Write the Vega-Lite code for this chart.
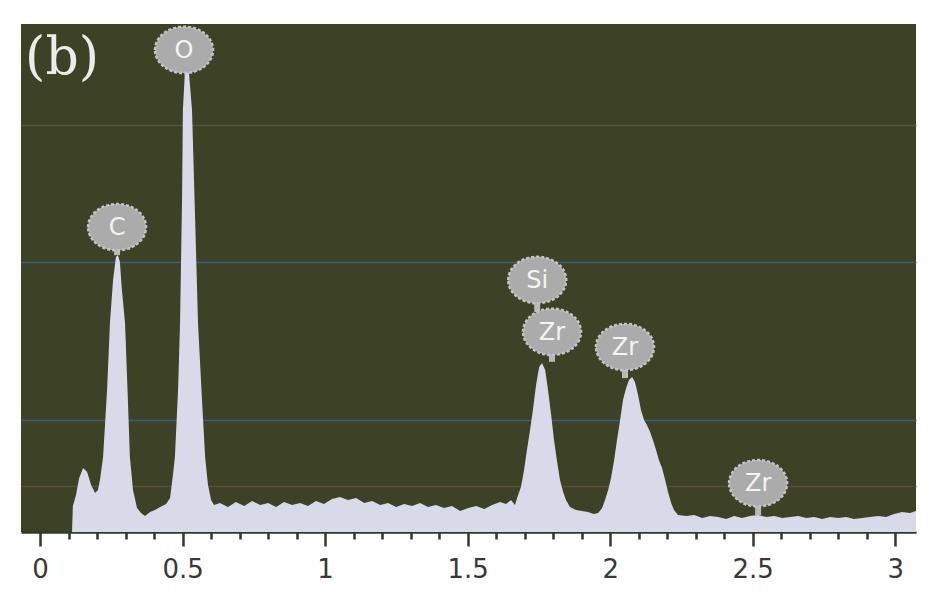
{
  "$schema": "https://vega.github.io/schema/vega-lite/v6.json",
  "autosize": {"type": "none"},
  "padding": {"left": 21, "top": 24, "right": 13, "bottom": 75},
  "width": 895,
  "height": 508,
  "background": "#ffffff",
  "config": {
    "view": {"fill": "#3d4227", "stroke": null}
  },
  "datasets": {
    "spec": [
      {"e": 0.112, "c": 0},
      {"e": 0.115, "c": 5.12},
      {"e": 0.126, "c": 7.28},
      {"e": 0.137, "c": 10.63},
      {"e": 0.151, "c": 12.6},
      {"e": 0.165, "c": 11.81},
      {"e": 0.179, "c": 9.25},
      {"e": 0.193, "c": 7.68},
      {"e": 0.203, "c": 8.27},
      {"e": 0.21, "c": 10.24},
      {"e": 0.221, "c": 14.76},
      {"e": 0.235, "c": 27.95},
      {"e": 0.245, "c": 41.14},
      {"e": 0.256, "c": 49.61},
      {"e": 0.266, "c": 54.13},
      {"e": 0.273, "c": 54.53},
      {"e": 0.28, "c": 53.15},
      {"e": 0.287, "c": 47.64},
      {"e": 0.298, "c": 41.14},
      {"e": 0.308, "c": 25.98},
      {"e": 0.315, "c": 14.76},
      {"e": 0.326, "c": 8.27},
      {"e": 0.34, "c": 4.72},
      {"e": 0.354, "c": 3.74},
      {"e": 0.368, "c": 3.15},
      {"e": 0.386, "c": 3.94},
      {"e": 0.403, "c": 4.33},
      {"e": 0.421, "c": 4.92},
      {"e": 0.442, "c": 5.51},
      {"e": 0.456, "c": 6.69},
      {"e": 0.466, "c": 11.22},
      {"e": 0.473, "c": 14.76},
      {"e": 0.484, "c": 27.95},
      {"e": 0.491, "c": 41.14},
      {"e": 0.498, "c": 65.35},
      {"e": 0.501, "c": 83.07},
      {"e": 0.508, "c": 90.55},
      {"e": 0.515, "c": 91.73},
      {"e": 0.522, "c": 90.55},
      {"e": 0.533, "c": 83.07},
      {"e": 0.544, "c": 61.42},
      {"e": 0.554, "c": 41.14},
      {"e": 0.568, "c": 25.98},
      {"e": 0.579, "c": 14.76},
      {"e": 0.589, "c": 9.25},
      {"e": 0.6, "c": 6.3},
      {"e": 0.61, "c": 5.31},
      {"e": 0.631, "c": 5.71},
      {"e": 0.659, "c": 4.92},
      {"e": 0.687, "c": 5.91},
      {"e": 0.716, "c": 5.12},
      {"e": 0.744, "c": 6.1},
      {"e": 0.772, "c": 5.31},
      {"e": 0.8, "c": 5.71},
      {"e": 0.828, "c": 4.92},
      {"e": 0.856, "c": 5.91},
      {"e": 0.884, "c": 5.31},
      {"e": 0.912, "c": 5.71},
      {"e": 0.94, "c": 5.12},
      {"e": 0.968, "c": 6.1},
      {"e": 0.996, "c": 5.51},
      {"e": 1.024, "c": 6.5},
      {"e": 1.052, "c": 6.89},
      {"e": 1.08, "c": 6.3},
      {"e": 1.109, "c": 6.69},
      {"e": 1.137, "c": 5.71},
      {"e": 1.165, "c": 6.1},
      {"e": 1.193, "c": 5.31},
      {"e": 1.221, "c": 5.71},
      {"e": 1.249, "c": 4.92},
      {"e": 1.277, "c": 5.51},
      {"e": 1.305, "c": 5.12},
      {"e": 1.333, "c": 5.71},
      {"e": 1.361, "c": 4.92},
      {"e": 1.389, "c": 5.31},
      {"e": 1.417, "c": 4.72},
      {"e": 1.445, "c": 5.12},
      {"e": 1.474, "c": 4.13},
      {"e": 1.502, "c": 4.72},
      {"e": 1.53, "c": 5.12},
      {"e": 1.558, "c": 4.53},
      {"e": 1.586, "c": 5.31},
      {"e": 1.614, "c": 5.91},
      {"e": 1.635, "c": 5.51},
      {"e": 1.652, "c": 6.3},
      {"e": 1.666, "c": 5.31},
      {"e": 1.677, "c": 7.28},
      {"e": 1.687, "c": 8.86},
      {"e": 1.698, "c": 12.2},
      {"e": 1.708, "c": 16.14},
      {"e": 1.719, "c": 20.08},
      {"e": 1.729, "c": 24.02},
      {"e": 1.74, "c": 28.94},
      {"e": 1.751, "c": 32.48},
      {"e": 1.761, "c": 33.27},
      {"e": 1.772, "c": 31.89},
      {"e": 1.782, "c": 27.95},
      {"e": 1.793, "c": 23.03},
      {"e": 1.803, "c": 18.11},
      {"e": 1.814, "c": 13.78},
      {"e": 1.824, "c": 10.24},
      {"e": 1.835, "c": 7.87},
      {"e": 1.845, "c": 6.3},
      {"e": 1.859, "c": 4.92},
      {"e": 1.88, "c": 4.33},
      {"e": 1.901, "c": 4.13},
      {"e": 1.922, "c": 3.94},
      {"e": 1.943, "c": 3.54},
      {"e": 1.958, "c": 3.74},
      {"e": 1.972, "c": 4.72},
      {"e": 1.982, "c": 6.3},
      {"e": 1.993, "c": 8.27},
      {"e": 2.003, "c": 10.63},
      {"e": 2.014, "c": 14.17},
      {"e": 2.024, "c": 18.11},
      {"e": 2.035, "c": 22.05},
      {"e": 2.045, "c": 25.98},
      {"e": 2.056, "c": 28.35},
      {"e": 2.066, "c": 29.92},
      {"e": 2.077, "c": 30.51},
      {"e": 2.087, "c": 29.53},
      {"e": 2.098, "c": 26.97},
      {"e": 2.108, "c": 24.02},
      {"e": 2.119, "c": 22.05},
      {"e": 2.129, "c": 21.06},
      {"e": 2.14, "c": 19.69},
      {"e": 2.15, "c": 18.11},
      {"e": 2.161, "c": 16.14},
      {"e": 2.171, "c": 14.17},
      {"e": 2.182, "c": 12.6},
      {"e": 2.193, "c": 10.24},
      {"e": 2.203, "c": 7.87},
      {"e": 2.214, "c": 5.71},
      {"e": 2.224, "c": 4.33},
      {"e": 2.238, "c": 3.35},
      {"e": 2.267, "c": 3.15},
      {"e": 2.295, "c": 3.35},
      {"e": 2.323, "c": 2.76},
      {"e": 2.351, "c": 3.15},
      {"e": 2.379, "c": 2.95},
      {"e": 2.407, "c": 2.56},
      {"e": 2.435, "c": 3.15},
      {"e": 2.463, "c": 2.76},
      {"e": 2.491, "c": 3.15},
      {"e": 2.519, "c": 3.35},
      {"e": 2.548, "c": 2.95},
      {"e": 2.576, "c": 3.15},
      {"e": 2.604, "c": 2.76},
      {"e": 2.632, "c": 2.95},
      {"e": 2.66, "c": 3.15},
      {"e": 2.688, "c": 2.76},
      {"e": 2.716, "c": 2.95},
      {"e": 2.744, "c": 2.56},
      {"e": 2.772, "c": 2.95},
      {"e": 2.8, "c": 2.76},
      {"e": 2.828, "c": 2.95},
      {"e": 2.856, "c": 2.56},
      {"e": 2.884, "c": 2.76},
      {"e": 2.912, "c": 2.95},
      {"e": 2.94, "c": 3.15},
      {"e": 2.968, "c": 2.95},
      {"e": 2.996, "c": 3.54},
      {"e": 3.024, "c": 3.94},
      {"e": 3.052, "c": 3.74},
      {"e": 3.073, "c": 4.13}
    ],
    "peaks": [
      {"el": "C", "e": 0.27, "badge": 60.0, "top": 54.5},
      {"el": "O", "e": 0.505, "badge": 94.9, "top": 90.9},
      {"el": "Si", "e": 1.744, "badge": 49.6, "top": 43.3},
      {"el": "Zr", "e": 1.796, "badge": 39.4, "top": 33.5},
      {"el": "Zr", "e": 2.052, "badge": 36.4, "top": 30.3},
      {"el": "Zr", "e": 2.519, "badge": 9.6, "top": 3.35}
    ],
    "panel": [
      {"label": "(b)", "e": 0.077, "c": 93.4}
    ]
  },
  "layer": [
    {
      "data": {"name": "spec"},
      "mark": {"type": "area", "color": "#d8dae9", "clip": true, "interpolate": "linear"},
      "encoding": {
        "x": {
          "field": "e", "type": "quantitative",
          "scale": {"domain": [-0.067, 3.073], "nice": false, "zero": false},
          "axis": {
            "title": null,
            "tickCount": 200,
            "values": [0, 0.1, 0.2, 0.3, 0.4, 0.5, 0.6, 0.7, 0.8, 0.9, 1, 1.1, 1.2, 1.3, 1.4, 1.5, 1.6, 1.7, 1.8, 1.9, 2, 2.1, 2.2, 2.3, 2.4, 2.5, 2.6, 2.7, 2.8, 2.9, 3],
            "labelExpr": "indexof([0,0.5,1,1.5,2,2.5,3], datum.value) >= 0 ? format(datum.value, '~g') : ''",
            "grid": false,
            "domainColor": "#2e3a26",
            "domainWidth": 2.5,
            "tickColor": "#2e3a26",
            "tickWidth": 2.5,
            "tickSize": {"condition": {"test": "indexof([0,0.5,1,1.5,2,2.5,3], datum.value) >= 0", "value": 14}, "value": 7},
            "labelFont": "DejaVu Sans",
            "labelFontSize": 26,
            "labelColor": "#383838",
            "labelPadding": 10,
            "labelFlush": false,
            "labelOverlap": false
          }
        },
        "y": {
          "field": "c", "type": "quantitative",
          "scale": {"domain": [0, 100], "nice": false, "zero": true},
          "axis": {
            "title": null,
            "labels": false,
            "ticks": false,
            "domain": false,
            "grid": true,
            "tickCount": 50,
            "values": [9.06, 22.05, 53.15, 80.12],
            "gridColor": {"condition": [
              {"test": "datum.value > 20 && datum.value < 60", "value": "#3d5b80"},
              {"test": "datum.value > 60", "value": "#51563a"}
            ], "value": "#5e4a38"},
            "gridWidth": 1.5
          }
        }
      }
    },
    {
      "data": {"name": "peaks"},
      "mark": {"type": "rule", "color": "#b9b9b9", "strokeWidth": 6},
      "encoding": {
        "x": {"field": "e", "type": "quantitative"},
        "y": {"field": "badge", "type": "quantitative"},
        "y2": {"field": "top"}
      }
    },
    {
      "data": {"name": "peaks"},
      "mark": {
        "type": "point",
        "shape": "M-1,0 A1,0.8 0 1,1 1,0 A1,0.8 0 1,1 -1,0 Z",
        "size": 3364,
        "filled": true,
        "fill": "#ababab",
        "fillOpacity": 1,
        "stroke": "#c4c4c4",
        "strokeWidth": 2.5,
        "strokeDash": [3, 2],
        "opacity": 1
      },
      "encoding": {
        "x": {"field": "e", "type": "quantitative"},
        "y": {"field": "badge", "type": "quantitative"}
      }
    },
    {
      "data": {"name": "peaks"},
      "mark": {"type": "text", "font": "DejaVu Sans", "fontSize": 24, "color": "#f4f4f4", "align": "center", "baseline": "middle", "dy": 1},
      "encoding": {
        "x": {"field": "e", "type": "quantitative"},
        "y": {"field": "badge", "type": "quantitative"},
        "text": {"field": "el"}
      }
    },
    {
      "data": {"name": "panel"},
      "mark": {"type": "text", "font": "DejaVu Serif", "fontSize": 52, "color": "#ececec", "align": "center", "baseline": "middle"},
      "encoding": {
        "x": {"field": "e", "type": "quantitative"},
        "y": {"field": "c", "type": "quantitative"},
        "text": {"field": "label"}
      }
    }
  ]
}
